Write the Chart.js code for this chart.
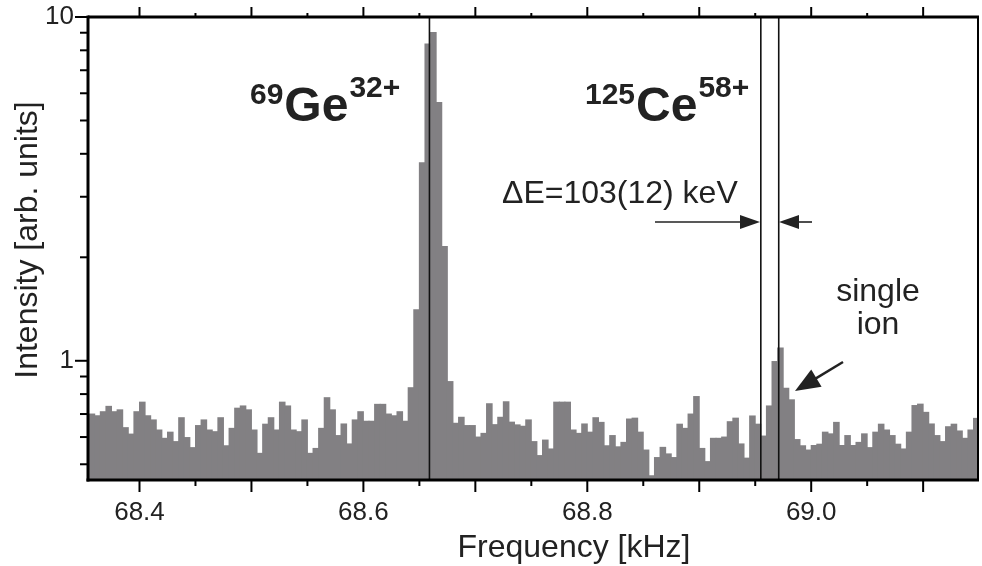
<!DOCTYPE html>
<html><head><meta charset="utf-8">
<script src="https://cdn.jsdelivr.net/npm/chart.js@4.4.1/dist/chart.umd.min.js"></script>
<style>html,body{margin:0;padding:0;background:#fff}#wrap{width:982px;height:566px}</style>
</head><body><div id="wrap"><canvas id="c" width="982" height="566"></canvas></div>
<script>
// ---- data ----
const binStart = 68.35;      // kHz, left edge of first bin
const binWidth = 0.005;      // kHz
const intensity = [
 0.673,0.700,0.692,0.711,0.737,0.711,0.720,0.639,0.612,0.711,
 0.758,0.692,0.673,0.629,0.595,0.620,0.582,0.683,0.598,0.559,
 0.648,0.673,0.629,0.622,0.683,0.566,0.636,0.728,0.739,0.720,
 0.629,0.538,0.654,0.683,0.629,0.758,0.739,0.629,0.622,0.673,
 0.538,0.556,0.636,0.781,0.720,0.606,0.655,0.573,0.673,0.711,
 0.667,0.667,0.747,0.747,0.700,0.692,0.711,0.667,0.835,1.408,
 3.77,8.34,9.02,5.64,2.15,0.870,0.658,0.685,0.648,0.648,
 0.600,0.615,0.750,0.652,0.685,0.760,0.663,0.651,0.645,0.673,
 0.582,0.530,0.588,0.554,0.758,0.758,0.758,0.629,0.615,0.655,
 0.620,0.683,0.662,0.566,0.606,0.562,0.579,0.677,0.681,0.620,
 0.550,0.463,0.523,0.560,0.536,0.523,0.654,0.636,0.700,0.787,
 0.556,0.509,0.595,0.595,0.600,0.665,0.681,0.573,0.521,0.691,
 0.654,0.604,0.739,0.995,1.089,0.832,0.770,0.590,0.566,0.550,
 0.567,0.572,0.620,0.613,0.662,0.567,0.606,0.567,0.579,0.613,
 0.559,0.620,0.654,0.629,0.606,0.572,0.554,0.620,0.741,0.748,
 0.708,0.655,0.606,0.582,0.643,0.654,0.625,0.595,0.629,0.680
];
const xMin = 68.354, xMax = 69.149;
const yMin = 0.45, yMax = 10;
const xLabelTicks = [68.4, 68.6, 68.8, 69.0];
const xMajorTicks = [68.4, 68.5, 68.6, 68.7, 68.8, 68.9, 69.0, 69.1];
const xMinorTicks = [68.45, 68.55, 68.65, 68.75, 68.85, 68.95, 69.05];
const yLabelTicks = [1, 10];
const yMinorTicks = [0.5, 0.6, 0.7, 0.8, 0.9, 2, 3, 4, 5, 6, 7, 8, 9];
const markerLines = [68.659, 68.955, 68.971];

const FONT = '"Liberation Sans", Arial, Helvetica, sans-serif';
const INK = '#222';

const points = intensity.map((v, i) => ({x: binStart + binWidth * (i + 0.5), y: v}));

function arrow(ctx, x1, y1, x2, y2, len, half) {
  const ang = Math.atan2(y2 - y1, x2 - x1);
  ctx.beginPath(); ctx.moveTo(x1, y1);
  ctx.lineTo(x2 - (len - 2) * Math.cos(ang), y2 - (len - 2) * Math.sin(ang)); ctx.stroke();
  ctx.beginPath();
  ctx.moveTo(x2, y2);
  ctx.lineTo(x2 - len * Math.cos(ang) + half * Math.sin(ang), y2 - len * Math.sin(ang) - half * Math.cos(ang));
  ctx.lineTo(x2 - len * Math.cos(ang) - half * Math.sin(ang), y2 - len * Math.sin(ang) + half * Math.cos(ang));
  ctx.closePath(); ctx.fill();
}

function ionLabel(ctx, x, mass, sym, charge) {
  ctx.textAlign = 'left'; ctx.textBaseline = 'alphabetic';
  ctx.font = 'bold 30px ' + FONT;
  ctx.fillText(mass, x, 104);
  x += ctx.measureText(mass).width + 1;
  ctx.font = 'bold 48px ' + FONT;
  ctx.fillText(sym, x, 121);
  x += ctx.measureText(sym).width + 1;
  ctx.font = 'bold 30px ' + FONT;
  ctx.fillText(charge, x, 97);
}

const overlay = {
  id: 'overlay',
  afterDatasetsDraw(chart) {
    const {ctx, chartArea: a, scales: {x, y}} = chart;
    ctx.save();
    // marker lines
    ctx.strokeStyle = '#111'; ctx.lineWidth = 1.6;
    markerLines.forEach(v => {
      const px = x.getPixelForValue(v);
      ctx.beginPath(); ctx.moveTo(px, a.top); ctx.lineTo(px, a.bottom); ctx.stroke();
    });
    // frame
    ctx.strokeStyle = '#000';
    ctx.lineWidth = 2;
    ctx.beginPath(); ctx.moveTo(a.right, a.top); ctx.lineTo(a.right, a.bottom); ctx.stroke();
    ctx.lineWidth = 3;
    ctx.beginPath(); ctx.moveTo(a.left, a.top); ctx.lineTo(a.right + 1, a.top); ctx.stroke();
    ctx.beginPath(); ctx.moveTo(a.left - 1.5, a.bottom); ctx.lineTo(a.right + 1, a.bottom); ctx.stroke();
    ctx.beginPath(); ctx.moveTo(a.left, a.top - 1.5); ctx.lineTo(a.left, a.bottom + 1.5); ctx.stroke();
    // ticks
    ctx.lineWidth = 2;
    const vt = (px, y0, y1) => { ctx.beginPath(); ctx.moveTo(px, y0); ctx.lineTo(px, y1); ctx.stroke(); };
    const ht = (py, x0, x1) => { ctx.beginPath(); ctx.moveTo(x0, py); ctx.lineTo(x1, py); ctx.stroke(); };
    xMajorTicks.forEach(v => { const px = x.getPixelForValue(v); vt(px, a.bottom, a.bottom + 12); vt(px, a.top, a.top - 10); });
    xMinorTicks.forEach(v => { const px = x.getPixelForValue(v); vt(px, a.bottom, a.bottom + 6); vt(px, a.top, a.top - 4); });
    yLabelTicks.forEach(v => ht(y.getPixelForValue(v), a.left, a.left - 13));
    yMinorTicks.forEach(v => ht(y.getPixelForValue(v), a.left, a.left - 8));
    // annotations
    ctx.fillStyle = INK; ctx.strokeStyle = INK;
    ionLabel(ctx, 250, '69', 'Ge', '32+');
    ionLabel(ctx, 585, '125', 'Ce', '58+');
    ctx.font = '32px ' + FONT; ctx.textAlign = 'left'; ctx.textBaseline = 'alphabetic';
    ctx.fillText('\u0394E=103(12) keV', 502, 203);
    ctx.textAlign = 'center';
    ctx.fillText('single', 878, 301);
    ctx.fillText('ion', 878, 334);
    ctx.lineWidth = 1.6;
    arrow(ctx, 655, 222, 760, 222, 20, 7);
    arrow(ctx, 812, 222, 779, 222, 20, 7);
    ctx.lineWidth = 2.5;
    arrow(ctx, 843, 362, 795, 391, 25, 10);
    // axis titles
    ctx.font = '32px ' + FONT; ctx.textAlign = 'center'; ctx.textBaseline = 'middle';
    ctx.fillText('Frequency [kHz]', 574, 548);
    ctx.save(); ctx.translate(28, 240); ctx.rotate(-Math.PI / 2);
    ctx.fillText('Intensity [arb. units]', 0, 0); ctx.restore();
    ctx.restore();
  }
};

new Chart(document.getElementById('c'), {
  type: 'bar',
  data: { datasets: [{
    data: points,
    backgroundColor: '#828083',
    borderWidth: 0,
    barPercentage: 1, categoryPercentage: 1, inflateAmount: 0.5
  }]},
  options: {
    responsive: false, animation: false, events: [],
    layout: { padding: { top: 17, right: 4, left: 0, bottom: 0 } },
    plugins: { legend: { display: false }, tooltip: { enabled: false } },
    scales: {
      x: {
        type: 'linear', position: 'bottom', min: xMin, max: xMax, offset: false,
        grid: { display: false, drawTicks: false }, border: { display: false },
        afterBuildTicks: s => { s.ticks = xLabelTicks.map(v => ({value: v})); },
        afterFit: s => { s.height = 86; s.paddingLeft = 0; s.paddingRight = 0; },
        ticks: { autoSkip: false, maxRotation: 0, padding: 17, color: INK,
          font: { family: FONT, size: 26 }, callback: v => Number(v).toFixed(1) }
      },
      y: {
        type: 'logarithmic', min: yMin, max: yMax,
        grid: { display: false, drawTicks: false }, border: { display: false },
        afterBuildTicks: s => { s.ticks = yLabelTicks.map(v => ({value: v})); },
        afterFit: s => { s.width = 88; s.paddingTop = 0; s.paddingBottom = 0; },
        ticks: { autoSkip: false, padding: 14, color: INK,
          font: { family: FONT, size: 26 }, callback: v => String(v) }
      }
    }
  },
  plugins: [overlay]
});
</script></body></html>
